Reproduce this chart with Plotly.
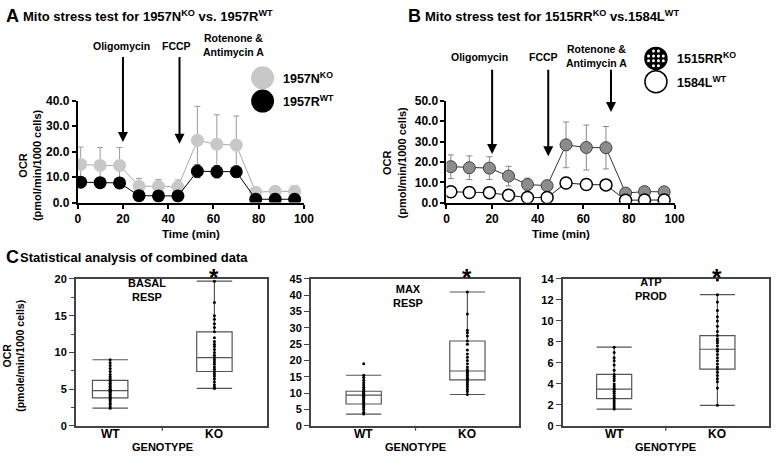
import plotly.graph_objects as go

W, H = 781, 460
FONT = "Liberation Sans"

# ---------------- Panel A data ----------------
time_a = [1.3, 9.9, 18.5, 27.1, 35.7, 44.3, 52.9, 61.5, 70.1, 78.7, 87.3, 95.9]
ko_a = [15.0, 14.6, 14.6, 6.4, 6.4, 6.1, 24.4, 22.9, 22.6, 4.1, 4.4, 4.4]
ko_a_err = [6.8, 7.0, 7.0, 3.1, 2.7, 2.8, 13.4, 11.6, 11.4, 1.5, 1.7, 2.2]
wt_a = [8.0, 7.8, 7.7, 2.7, 2.6, 2.6, 12.3, 12.1, 12.1, 1.3, 1.3, 1.3]
wt_a_err = [0.8, 0.8, 0.8, 0.5, 0.5, 0.5, 2.5, 2.4, 2.2, 0.3, 0.3, 0.3]
inject_a = [20, 45, 72.4]
inject_tip_a = [23.8, 23.1, 40.6]

# ---------------- Panel B data ----------------
time_b = [1.9, 10.0, 18.8, 27.2, 35.5, 44.1, 52.4, 61.3, 69.9, 78.5, 86.8, 95.4]
ko_b = [17.7, 17.2, 17.0, 13.1, 9.0, 8.4, 28.4, 27.1, 27.0, 4.8, 5.5, 5.4]
ko_b_err = [5.8, 5.8, 5.6, 4.8, 3.1, 2.6, 11.2, 11.0, 10.4, 0.8, 0.8, 0.8]
wt_b = [5.4, 5.1, 5.0, 3.7, 2.6, 2.6, 9.7, 9.0, 8.8, 1.3, 1.4, 1.4]
wt_b_err = [0.9, 0.8, 0.8, 0.6, 0.5, 0.5, 2.8, 2.5, 2.3, 0.4, 0.4, 0.4]
inject_b = [20, 44.6, 72.1]
inject_tip_b = [23.9, 22.8, 44.5]

# ---------------- Panel C data ----------------
genotypes = ["WT", "KO"]
# box summary per genotype: [q1, median, q3, lower whisker, upper whisker]
basal_stats = {"WT": [3.8, 4.8, 6.2, 2.4, 9.0], "KO": [7.4, 9.3, 12.8, 5.1, 19.7]}
max_stats = {"WT": [6.7, 9.4, 10.6, 3.6, 15.5], "KO": [14.1, 16.8, 26.0, 9.6, 41.0]}
atp_stats = {"WT": [2.6, 3.5, 4.9, 1.6, 7.5], "KO": [5.4, 7.3, 8.6, 1.96, 12.5]}
basal_wt = [2.4, 2.6, 2.9, 3.1, 3.4, 3.6, 3.8, 3.9, 4.1, 4.3, 4.5, 4.6, 4.7, 4.8, 4.9,
            5.0, 5.2, 5.4, 5.6, 5.8, 6.0, 6.2, 6.4, 6.7, 7.0, 7.4, 7.8, 8.2, 8.6, 9.0]
basal_ko = [5.1, 5.3, 5.6, 6.0, 6.4, 6.8, 7.1, 7.4, 7.7, 8.0, 8.4, 8.7, 9.0, 9.3, 9.6,
            10.0, 10.4, 10.8, 11.1, 11.5, 12.0, 12.8, 13.4, 13.9, 14.5, 15.0, 16.8, 19.7]
max_wt = [3.6, 4.2, 5.0, 5.6, 6.2, 6.7, 7.2, 7.6, 8.0, 8.4, 8.8, 9.1, 9.4, 9.6, 9.9,
          10.2, 10.6, 11.2, 11.8, 12.5, 13.2, 14.0, 14.8, 15.5, 19.0]
max_ko = [9.6, 10.5, 11.2, 12.0, 12.6, 13.2, 13.8, 14.1, 14.6, 15.0, 15.5, 16.0, 16.5,
          16.8, 17.3, 18.0, 19.0, 20.0, 21.0, 22.0, 23.2, 25.0, 26.0, 27.5, 28.5, 29.3, 34.3, 41.0]
atp_wt = [1.6, 1.8, 2.0, 2.2, 2.4, 2.6, 2.7, 2.9, 3.1, 3.3, 3.5, 3.6, 3.8, 4.0, 4.3,
          4.5, 4.7, 4.9, 5.3, 5.8, 6.2, 6.5, 7.0, 7.5]
atp_ko = [1.96, 3.6, 4.2, 4.5, 4.8, 5.1, 5.4, 5.6, 5.9, 6.2, 6.5, 6.8, 7.1, 7.3, 7.6,
          7.9, 8.1, 8.3, 8.6, 9.0, 9.5, 10.0, 10.4, 11.0, 11.8, 12.5, 13.9]


def px(x):
    return x / W


def py(y):
    return 1 - y / H


fig = go.Figure()

# ---- Panel A ----
fig.add_trace(go.Scatter(x=time_a, y=ko_a, mode="lines+markers", xaxis="x", yaxis="y",
                         error_y=dict(type="data", array=ko_a_err, color="#9a9a9a", thickness=1, width=3),
                         line=dict(color="#aaaaaa", width=1),
                         marker=dict(size=13, color="#c8c8c8", line=dict(width=0))))
fig.add_trace(go.Scatter(x=time_a, y=wt_a, mode="lines+markers", xaxis="x", yaxis="y",
                         error_y=dict(type="data", array=wt_a_err, color="#222222", thickness=1, width=3),
                         line=dict(color="black", width=1),
                         marker=dict(size=13, color="black", line=dict(width=0))))

# ---- Panel B ----
fig.add_trace(go.Scatter(x=time_b, y=ko_b, mode="lines+markers", xaxis="x2", yaxis="y2",
                         error_y=dict(type="data", array=ko_b_err, color="#888888", thickness=1, width=3),
                         line=dict(color="#333333", width=1),
                         marker=dict(size=12, color="#8c8c8c", line=dict(width=1, color="#444444"))))
fig.add_trace(go.Scatter(x=time_b, y=wt_b, mode="lines+markers", xaxis="x2", yaxis="y2",
                         error_y=dict(type="data", array=wt_b_err, color="#777777", thickness=1, width=3),
                         line=dict(color="#222222", width=1),
                         marker=dict(size=12, color="white", line=dict(width=1.5, color="black"))))

# ---- Panel C ----
panels_c = [(basal_stats, basal_wt, basal_ko, "x3", "y3"),
            (max_stats, max_wt, max_ko, "x4", "y4"),
            (atp_stats, atp_wt, atp_ko, "x5", "y5")]
for stats, dwt, dko, xa, ya in panels_c:
    for i, g in enumerate(genotypes):
        q1, med, q3, lo, hi = stats[g]
        fig.add_trace(go.Box(x=[i + 1], q1=[q1], median=[med], q3=[q3], lowerfence=[lo],
                             upperfence=[hi], orientation="v", width=0.34, whiskerwidth=1,
                             fillcolor="white", line=dict(color="#555555", width=1.2),
                             boxpoints=False, xaxis=xa, yaxis=ya, hoverinfo="skip"))
    for i, vals in enumerate([dwt, dko]):
        fig.add_trace(go.Scatter(x=[i + 1] * len(vals), y=vals, mode="markers",
                                 marker=dict(size=3, color="black"), xaxis=xa, yaxis=ya))

# ---- legend glyphs (pixel overlay axis) ----
fig.add_trace(go.Scatter(x=[264, 264], y=[73, 97], mode="markers", xaxis="x6", yaxis="y6",
                         marker=dict(size=23, color=["#c8c8c8", "black"], line=dict(width=0))))
fig.add_trace(go.Scatter(x=[664, 664], y=[53, 77], mode="markers", xaxis="x6", yaxis="y6",
                         marker=dict(size=22, color=["black", "white"], line=dict(width=1.5, color="black"))))
dots_x, dots_y = [], []
for dx in (-7.5, -2.5, 2.5, 7.5):
    for dy in (-7.5, -2.5, 2.5, 7.5):
        if abs(dx) == 7.5 and abs(dy) == 7.5:
            continue
        dots_x.append(664 + dx)
        dots_y.append(53 + dy)
fig.add_trace(go.Scatter(x=dots_x, y=dots_y, mode="markers", xaxis="x6", yaxis="y6",
                         marker=dict(size=3, color="white", line=dict(width=0))))

tickfont = dict(family=FONT, size=12, color="black", weight="bold")
tickfont_c = dict(family=FONT, size=11, color="black", weight="bold")

line_ax = dict(showline=True, linecolor="black", linewidth=2, ticks="outside", ticklen=4,
               tickwidth=1.5, tickcolor="black", showgrid=False, zeroline=False, tickfont=tickfont)
box_ax = dict(showline=True, mirror=True, linecolor="#444444", linewidth=1.5, showgrid=False,
              zeroline=False, tickfont=tickfont_c)

fig.update_layout(
    width=W, height=H, margin=dict(l=0, r=0, t=0, b=0),
    paper_bgcolor="white", plot_bgcolor="rgba(0,0,0,0)", showlegend=False,
    font=dict(family=FONT, color="black"),
    xaxis=dict(domain=[px(76), px(306)], range=[0, 100], dtick=20, anchor="y", **line_ax),
    yaxis=dict(domain=[py(201.7), py(96.7)], range=[0, 40], dtick=10, tickformat=".1f",
               anchor="x", **line_ax),
    xaxis2=dict(domain=[px(451), px(683)], range=[0, 100], dtick=20, anchor="y2", **line_ax),
    yaxis2=dict(domain=[py(202), py(96.7)], range=[0, 50], dtick=10, tickformat=".1f",
                anchor="x2", **line_ax),
    xaxis3=dict(domain=[px(74), px(268)], range=[0.67, 2.5], showticklabels=False,
                ticks="", anchor="y3", **box_ax),
    yaxis3=dict(domain=[py(432), py(280.5)], range=[0, 20], dtick=5, ticks="outside", ticklen=5,
                tickcolor="#444444", minor=dict(ticks="outside", ticklen=3, dtick=2.5, tickcolor="#444444"),
                anchor="x3", **box_ax),
    xaxis4=dict(domain=[px(313), px(525)], range=[0.49, 2.5], showticklabels=False,
                ticks="", anchor="y4", **box_ax),
    yaxis4=dict(domain=[py(432), py(280.5)], range=[0, 45], dtick=5, ticks="outside", ticklen=5,
                tickcolor="#444444", anchor="x4", **box_ax),
    xaxis5=dict(domain=[px(569), px(779)], range=[0.5, 2.5], showticklabels=False,
                ticks="", anchor="y5", **box_ax),
    yaxis5=dict(domain=[py(432), py(280.5)], range=[0, 14], dtick=2, ticks="outside", ticklen=5,
                tickcolor="#444444", anchor="x5", **box_ax),
    xaxis6=dict(domain=[0, 1], range=[0, W], visible=False, anchor="y6", fixedrange=True),
    yaxis6=dict(domain=[0, 1], range=[H, 0], visible=False, anchor="x6", fixedrange=True),
)

ann = []


def txt(x, y, s, size=11, xanchor="center", yanchor="middle", angle=0, xref="paper", yref="paper"):
    ann.append(dict(x=px(x) if xref == "paper" else x, y=py(y) if yref == "paper" else y,
                    xref=xref, yref=yref, text=s, showarrow=False, xanchor=xanchor,
                    yanchor=yanchor, textangle=angle,
                    font=dict(family=FONT, size=size, color="black")))


# titles
txt(1, 9, "<b>A</b>", size=18, xanchor="left")
txt(18, 9, "<b>Mito stress test for 1957N<sup>KO</sup> vs. 1957R<sup>WT</sup></b>", size=13, xanchor="left")
txt(410, 9, "<b>B</b>", size=18, xanchor="left")
txt(427, 9, "<b>Mito stress test for 1515RR<sup>KO</sup> vs.1584L<sup>WT</sup></b>", size=13, xanchor="left")
txt(1, 258, "<b>C</b>", size=18, xanchor="left")
txt(15, 258, "<b>Statistical analysis of combined data</b>", size=13, xanchor="left")

# panel A texts
txt(120, 40, "<b>Oligomycin</b>", size=10.5)
txt(176, 40, "<b>FCCP</b>", size=10.5)
txt(234, 39, "<b>Rotenone &amp;<br>Antimycin A</b>", size=10.5)
txt(283, 73, "<b>1957N<sup>KO</sup></b>", size=12.5, xanchor="left")
txt(283, 97, "<b>1957R<sup>WT</sup></b>", size=12.5, xanchor="left")
txt(27.5, 163, "<b>OCR<br>(pmol/min/1000 cells)</b>", size=11, angle=-90)
txt(191, 234, "<b>Time (min)</b>", size=11.5)

# panel B texts
txt(485, 52, "<b>Oligomycin</b>", size=10.5)
txt(550, 52, "<b>FCCP</b>", size=10.5)
txt(604, 51, "<b>Rotenone &amp;<br>Antimycin A</b>", size=10.5)
txt(683, 53, "<b>1515RR<sup>KO</sup></b>", size=12.5, xanchor="left")
txt(683, 77, "<b>1584L<sup>WT</sup></b>", size=12.5, xanchor="left")
txt(398, 160, "<b>OCR<br>(pmol/min/1000 cells)</b>", size=11, angle=-90)
txt(567, 234, "<b>Time (min)</b>", size=11.5)

# panel C texts
txt(11, 360, "<b>OCR<br>(pmole/min/1000 cells)</b>", size=10.5, angle=-90)
box_titles = ["<b>BASAL<br>RESP</b>", "<b>MAX<br>RESP</b>", "<b>ATP<br>PROD</b>"]
box_title_x = [1.35, 1.43, 1.36]
box_title_y = [292, 298, 291]
for k, (t, bx, by) in enumerate(zip(box_titles, box_title_x, box_title_y)):
    xa = "x%d" % (k + 3)
    txt(bx, by, t, size=11, xref=xa)
    txt(2, 279, "<b>*</b>", size=24, xref=xa)
    for i, g in enumerate(genotypes):
        txt(i + 1, 440, "<b>%s</b>" % g, size=12, xref=xa)
    txt(1.5, 454, "<b>GENOTYPE</b>", size=11, xref=xa)

# injection arrows
for xs, tips, tail, xa, ya in [(inject_a, inject_tip_a, [57.8, 57.8, 57.1], "x", "y"),
                               (inject_b, inject_tip_b, [65.9, 65.9, 65.9], "x2", "y2")]:
    for xv, tv, av in zip(xs, tips, tail):
        ann.append(dict(x=xv, y=tv, ax=xv, ay=av, xref=xa, yref=ya, axref=xa, ayref=ya,
                        text="", showarrow=True, arrowhead=2, arrowsize=1, arrowwidth=2,
                        arrowcolor="black"))

fig.update_layout(annotations=ann)

shapes = []
for k in range(3):
    xa = "x%d" % (k + 3)
    shapes.append(dict(type="line", xref=xa, yref="paper", x0=1.5, x1=1.5, y0=py(432), y1=py(437),
                       line=dict(color="#444444", width=1.2)))
fig.update_layout(shapes=shapes)

fig.write_html("out.html", config={"displayModeBar": False},
               post_script="document.body.style.margin='0';document.body.style.overflow='hidden';")
